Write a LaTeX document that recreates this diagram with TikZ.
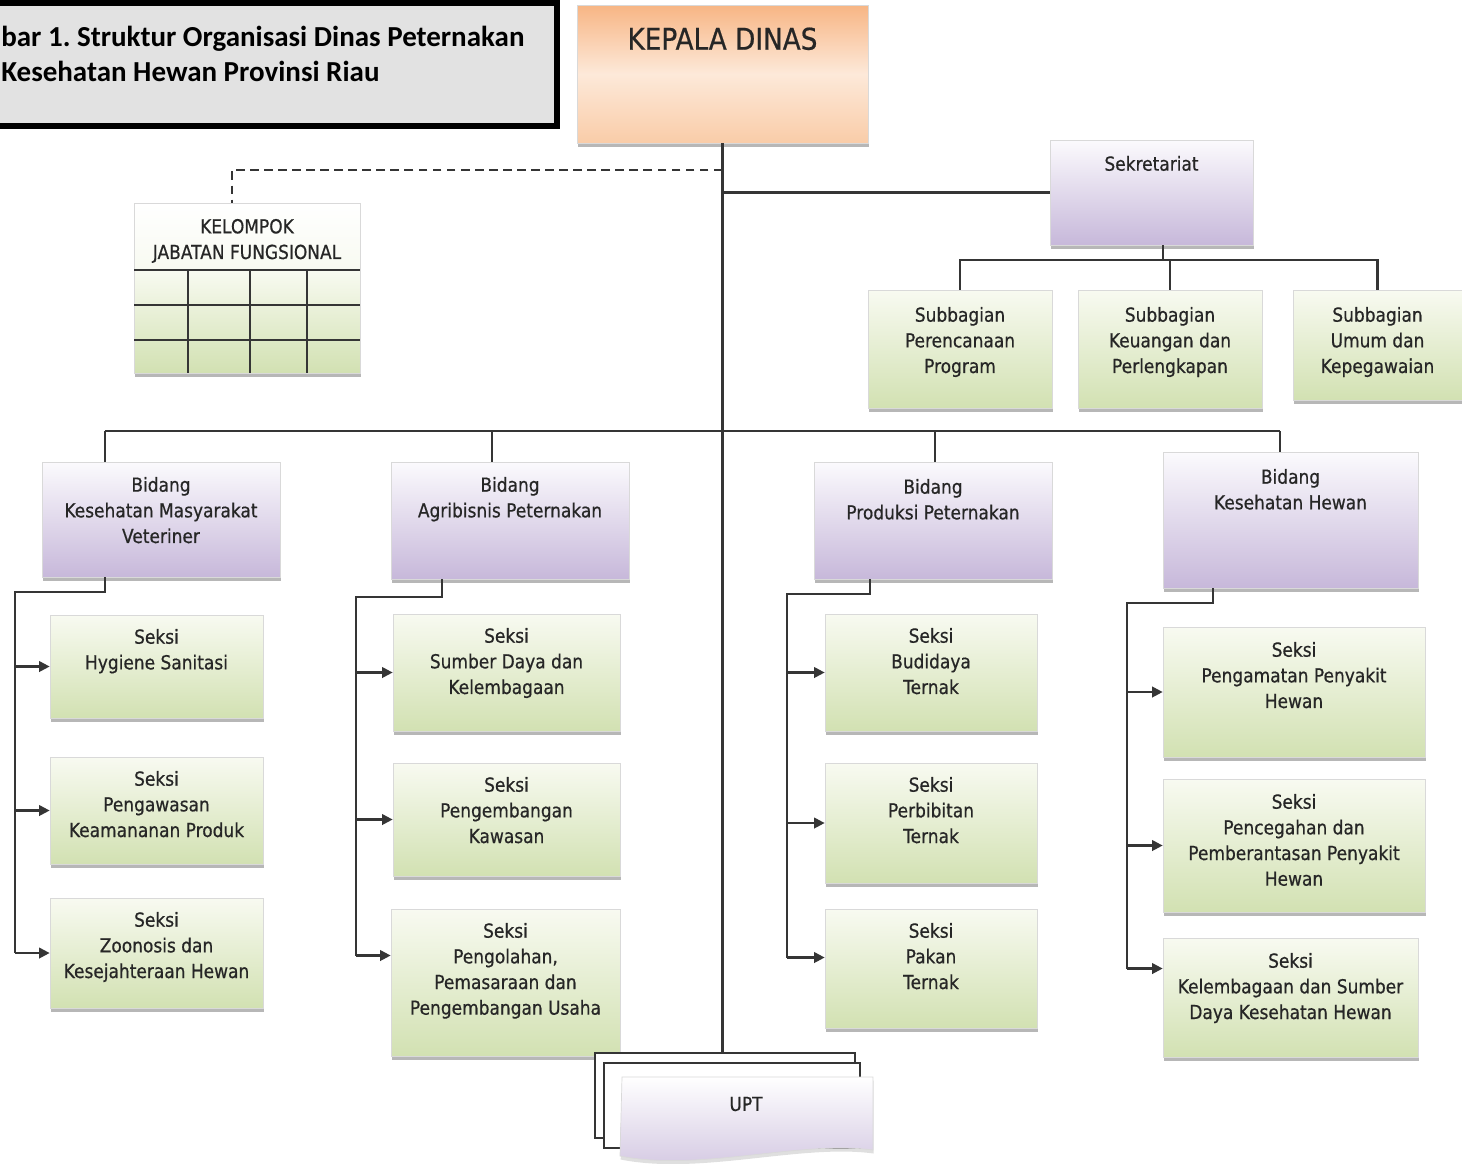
\documentclass[tikz,border=0pt]{standalone}
\usepackage{fontspec}
\setmainfont{DejaVu Sans}[FakeStretch=0.88, FakeBold=0.6]
\newfontfamily\titlefont{Carlito}
\usetikzlibrary{positioning,fit,shadows,arrows.meta,calc}
\frenchspacing

\definecolor{lavtop}{HTML}{FBFAFD}
\definecolor{lavbot}{HTML}{C7B8DA}
\definecolor{grntop}{HTML}{F8FAF1}
\definecolor{grnbot}{HTML}{D2E1B2}
\definecolor{orgtop}{HTML}{F7B584}
\definecolor{orgmid}{HTML}{FDE9D9}
\definecolor{orgbot}{HTML}{F9CCA8}
\definecolor{linegray}{HTML}{353535}
\definecolor{titlegray}{HTML}{E2E2E2}

\tikzset{
  orgbox/.style={draw=black!15, inner sep=0pt,
    drop shadow={shadow xshift=0.4pt, shadow yshift=-2.4pt, fill=black!40, opacity=0.7}},
  lavbox/.style={orgbox, top color=lavtop, bottom color=lavbot},
  grnbox/.style={orgbox, top color=grntop, bottom color=grnbot},
  headbox/.style={orgbox, top color=orgtop, bottom color=orgbot, middle color=orgmid},
  boxtext/.style={anchor=north, inner sep=0pt, align=center, text=black!85,
    font=\fontsize{11}{14.6}\selectfont},
  link/.style={draw=linegray, line width=1.2pt},
  arr/.style={link, -{Triangle[length=6pt,width=6pt]}},
}

\begin{document}
\begin{tikzpicture}[x=0.02cm, y=-0.02cm]
    \useasboundingbox (0,0) rectangle (1462,1163);

    % Judul
    \node[draw=black, line width=3pt, fill=titlegray, inner sep=0pt,
          fit={(-30,3)(557,126)}] (judul) {};
    \node[anchor=west, inner sep=0pt, align=left, font=\titlefont\bfseries\fontsize{16.5}{20.4}\selectfont]
        (judultxt) at (1,54) {bar 1. Struktur Organisasi Dinas Peternakan\\Kesehatan Hewan Provinsi Riau};

    % Kepala dinas
    \node[headbox, fit={(577,5)(868,143)}] (kepala) {};
    \node[boxtext, font=\fontsize{17}{20}\selectfont] (kepalatxt) at ([yshift=-0.45cm]kepala.north) {KEPALA DINAS};

    % Kelompok jabatan fungsional
    \node[orgbox, top color=white, bottom color=grntop, fit={(134,203)(360,270)}] (kjfhead) {};
    \node[grnbox, fit={(134,270)(360,373)}] (kjfgrid) {};
    \node[boxtext] (kjftxt) at ([yshift=-0.32cm]kjfhead.north) {KELOMPOK\\JABATAN FUNGSIONAL};
    \foreach \y in {270,305,340}
        \draw[link] (134,\y) -- (360,\y);
    \foreach \x in {188,250,307}
        \draw[link] (\x,270) -- (\x,373);

    % Sekretariat
    \node[lavbox, fit={(1050,140)(1253,245)}] (sekr) {};
    \node[boxtext] (sekrtxt) at ([yshift=-0.32cm]sekr.north) {Sekretariat};

    \node[grnbox, fit={(868,290)(1052,408)}] (sub1) {};
    \node[grnbox, fit={(1078,290)(1262,408)}] (sub2) {};
    \node[grnbox, fit={(1293,290)(1462,400)}] (sub3) {};
    \node[boxtext] (sub1txt) at ([yshift=-0.34cm]sub1.north) {Subbagian\\Perencanaan\\Program};
    \node[boxtext] (sub2txt) at ([yshift=-0.34cm]sub2.north) {Subbagian\\Keuangan dan\\Perlengkapan};
    \node[boxtext] (sub3txt) at ([yshift=-0.34cm]sub3.north) {Subbagian\\Umum dan\\Kepegawaian};

    % Bidang
    \node[lavbox, fit={(42,462)(280,577)}] (kmv) {};
    \node[lavbox, fit={(391,462)(629,579)}] (agri) {};
    \node[lavbox, fit={(814,462)(1052,579)}] (prod) {};
    \node[lavbox, fit={(1163,452)(1418,588)}] (kh) {};
    \node[boxtext] (kmvtxt) at ([yshift=-0.3cm]kmv.north) {Bidang\\Kesehatan Masyarakat\\Veteriner};
    \node[boxtext] (agritxt) at ([yshift=-0.3cm]agri.north) {Bidang\\Agribisnis Peternakan};
    \node[boxtext] (prodtxt) at ([yshift=-0.34cm]prod.north) {Bidang\\Produksi Peternakan};
    \node[boxtext] (khtxt) at ([yshift=-0.34cm]kh.north) {Bidang\\Kesehatan Hewan};

    % Seksi kesmavet
    \node[grnbox, fit={(50,615)(263,718)}] (hyg) {};
    \node[grnbox, fit={(50,757)(263,864)}] (awas) {};
    \node[grnbox, fit={(50,898)(263,1008)}] (zoo) {};
    \node[boxtext] at ([yshift=-0.28cm]hyg.north) {Seksi\\Hygiene Sanitasi};
    \node[boxtext] at ([yshift=-0.28cm]awas.north) {Seksi\\Pengawasan\\Keamananan Produk};
    \node[boxtext] at ([yshift=-0.28cm]zoo.north) {Seksi\\Zoonosis dan\\Kesejahteraan Hewan};

    % Seksi agribisnis
    \node[grnbox, fit={(393,614)(620,731)}] (sdk) {};
    \node[grnbox, fit={(393,763)(620,876)}] (kaw) {};
    \node[grnbox, fit={(391,909)(620,1056)}] (olah) {};
    \node[boxtext] at ([yshift=-0.28cm]sdk.north) {Seksi\\Sumber Daya dan\\Kelembagaan};
    \node[boxtext] at ([yshift=-0.28cm]kaw.north) {Seksi\\Pengembangan\\Kawasan};
    \node[boxtext] at ([yshift=-0.28cm]olah.north) {Seksi\\Pengolahan,\\Pemasaraan dan\\Pengembangan Usaha};

    % Seksi produksi
    \node[grnbox, fit={(825,614)(1037,731)}] (bud) {};
    \node[grnbox, fit={(825,763)(1037,883)}] (bibit) {};
    \node[grnbox, fit={(825,909)(1037,1028)}] (pakan) {};
    \node[boxtext] at ([yshift=-0.28cm]bud.north) {Seksi\\Budidaya\\Ternak};
    \node[boxtext] at ([yshift=-0.28cm]bibit.north) {Seksi\\Perbibitan\\Ternak};
    \node[boxtext] at ([yshift=-0.28cm]pakan.north) {Seksi\\Pakan\\Ternak};

    % Seksi keswan
    \node[grnbox, fit={(1163,627)(1425,757)}] (amat) {};
    \node[grnbox, fit={(1163,779)(1425,912)}] (cegah) {};
    \node[grnbox, fit={(1163,938)(1418,1057)}] (lbg) {};
    \node[boxtext] at ([yshift=-0.3cm]amat.north) {Seksi\\Pengamatan Penyakit\\Hewan};
    \node[boxtext] at ([yshift=-0.3cm]cegah.north) {Seksi\\Pencegahan dan\\Pemberantasan Penyakit\\Hewan};
    \node[boxtext] at ([yshift=-0.3cm]lbg.north) {Seksi\\Kelembagaan dan Sumber\\Daya Kesehatan Hewan};

    % UPT (tumpukan)
    \node[draw=linegray, line width=1pt, fill=white, inner sep=0pt, fit={(595,1053)(855,1138)}] (uptc) {};
    \node[draw=linegray, line width=1pt, fill=white, inner sep=0pt, fit={(604,1063)(860,1148)}] (uptb) {};
    \path[draw=black!15, top color=white, bottom color=lavbot!80,
          drop shadow={shadow xshift=0.4pt, shadow yshift=-2pt, fill=black!25}]
        (622,1077) -- (873,1077) -- (873,1150)
        .. controls (800,1140) and (700,1172) .. (620,1156) -- cycle;
    \node[boxtext, anchor=center] (upt) at (746,1104) {UPT};

    % Garis komando
    \draw[link] (kepala.south) -- (kepala.south |- uptc.north);
    \coordinate (kjfturn) at (232,170);
    \draw[link, dash pattern=on 5pt off 3pt] (kepala.south |- kjfturn) -- (kjfturn) -- (kjfturn |- kjfhead.north);
    \draw[link] (kepala.south |- sekr.west) -- (sekr.west);

    \coordinate (subbus) at (1163,260);
    \draw[link] (sub1.north) |- (subbus) -| (sub3.north);
    \draw[link] (subbus |- sekr.south) -- (subbus);
    \draw[link] (sub2.north) -- (sub2.north |- subbus);

    \coordinate (kmvtop) at (105,431);
    \coordinate (agritop) at (492,431);
    \coordinate (prodtop) at (935,431);
    \coordinate (khtop) at (1280,431);
    \draw[link] (kmvtop) -- (khtop);
    \draw[link] (kmvtop) -- (kmvtop |- kmv.north);
    \draw[link] (agritop) -- (agritop |- agri.north);
    \draw[link] (prodtop) -- (prodtop |- prod.north);
    \draw[link] (khtop) -- (khtop |- kh.north);

    % Kesmavet
    \coordinate (kmvbus) at (15,592);
    \draw[link] (kmvtop |- kmv.south) -- (kmvtop |- kmvbus) -- (kmvbus) -- (kmvbus |- zoo.west);
    \draw[arr] (kmvbus |- hyg.west) -- (hyg.west);
    \draw[arr] (kmvbus |- awas.west) -- (awas.west);
    \draw[arr] (kmvbus |- zoo.west) -- (zoo.west);

    % Agribisnis
    \coordinate (agribus) at (356,597);
    \coordinate (olahin) at ([yshift=0.54cm]olah.west);
    \draw[link] (442,579) -- (442,597) -- (agribus) -- (agribus |- olahin);
    \draw[arr] (agribus |- sdk.west) -- (sdk.west);
    \draw[arr] (agribus |- kaw.west) -- (kaw.west);
    \draw[arr] (agribus |- olahin) -- (olahin);

    % Produksi
    \coordinate (prodbus) at (787,594);
    \coordinate (pakanin) at ([yshift=0.22cm]pakan.west);
    \draw[link] (870,579) -- (870,594) -- (prodbus) -- (prodbus |- pakanin);
    \draw[arr] (prodbus |- bud.west) -- (bud.west);
    \draw[arr] (prodbus |- bibit.west) -- (bibit.west);
    \draw[arr] (prodbus |- pakanin) -- (pakanin);

    % Keswan
    \coordinate (khbus) at (1127,603);
    \coordinate (lbgin) at ([yshift=0.58cm]lbg.west);
    \draw[link] (1213,588) -- (1213,603) -- (khbus) -- (khbus |- lbgin);
    \draw[arr] (khbus |- amat.west) -- (amat.west);
    \draw[arr] (khbus |- cegah.west) -- (cegah.west);
    \draw[arr] (khbus |- lbgin) -- (lbgin);

\end{tikzpicture}
\end{document}
